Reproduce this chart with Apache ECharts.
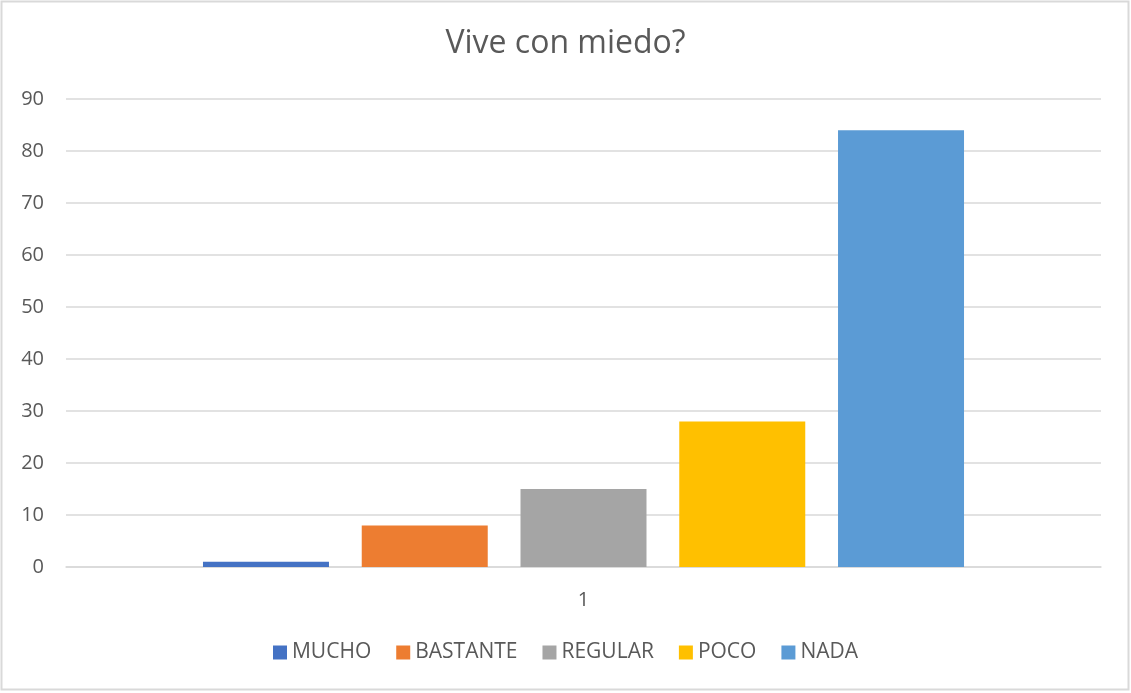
<!DOCTYPE html>
<html>
<head>
<meta charset="utf-8">
<script src="https://cdn.jsdelivr.net/npm/echarts@6/dist/echarts.min.js"></script>
<style>html,body{margin:0;padding:0;background:#fff;}#c{width:1131px;height:693px;}</style>
</head>
<body>
<div id="c"></div>
<script>
const categories = ['1'];
const seriesNames = ['MUCHO', 'BASTANTE', 'REGULAR', 'POCO', 'NADA'];
const seriesValues = [[1], [8], [15], [28], [84]];
const seriesColors = ['#4472C4', '#ED7D31', '#A5A5A5', '#FFC000', '#5B9BD5'];
const yTicks = { min: 0, max: 90, interval: 10 };

const chart = echarts.init(document.getElementById('c'));
const font = '"Open Sans", "Noto Sans", sans-serif';
chart.setOption({
  animation: false,
  backgroundColor: '#fff',
  title: {
    text: 'Vive con miedo?', left: 'center', top: 23,
    textStyle: { fontFamily: font, fontSize: 32, fontWeight: 'normal', color: '#595959' }
  },
  graphic: [{
    type: 'rect', shape: { x: 1.5, y: 1.5, width: 1127, height: 688 },
    style: { fill: 'none', stroke: '#d9d9d9', lineWidth: 2 }, silent: true, z: -1
  }],
  legend: {
    bottom: 25, left: 'center', itemWidth: 14, itemHeight: 14, itemGap: 25,
    icon: 'rect',
    textStyle: { fontFamily: font, fontSize: 21, color: '#595959' },
    data: seriesNames
  },
  grid: { left: 66, right: 30, top: 99, bottom: 126 },
  xAxis: {
    type: 'category', data: categories,
    axisLine: { lineStyle: { color: '#d9d9d9', width: 1.5 } },
    axisTick: { show: false },
    axisLabel: { fontFamily: font, fontSize: 20, color: '#595959', margin: 23 }
  },
  yAxis: {
    type: 'value', min: yTicks.min, max: yTicks.max, interval: yTicks.interval,
    axisLine: { show: false }, axisTick: { show: false },
    splitLine: { lineStyle: { color: '#d9d9d9', width: 1.5 } },
    axisLabel: { fontFamily: font, fontSize: 20, color: '#595959', margin: 22 }
  },
  series: seriesNames.map((n, i) => ({
    name: n, type: 'bar', data: seriesValues[i],
    barWidth: 126, barGap: '26%',
    itemStyle: { color: seriesColors[i] }
  }))
});
</script>
</body>
</html>
